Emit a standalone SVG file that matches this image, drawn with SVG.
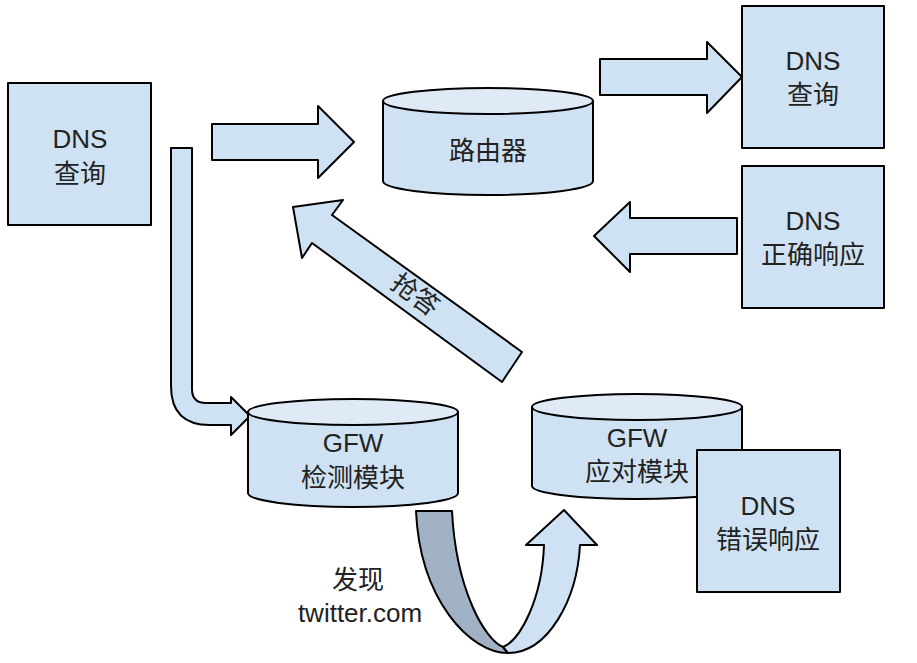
<svg xmlns="http://www.w3.org/2000/svg" width="917" height="663" viewBox="0 0 917 663">
<style>
.s{fill:#cfe2f3;stroke:#000;stroke-width:2;stroke-linejoin:round}
.top{fill:#dfeaf6;stroke:#000;stroke-width:2}
.dark{fill:#a0b2c4;stroke:#000;stroke-width:2;stroke-linejoin:round}
text{font-family:"Liberation Sans","Noto Sans CJK SC",sans-serif;font-size:26px;fill:#222;text-anchor:middle}
</style>
<rect width="917" height="663" fill="#fff"/>
<g id="connectors">
<path class="s" d="M212,124 L318,124 L318,106 L354,142 L318,178 L318,160 L212,160 Z"/>
<path class="s" d="M171,148 L192,148 L192,389 Q192,403 206,403 L231,403 L231,397 L250,416 L231,435 L231,425 L210,425 Q171,425 171,386 Z"/>
<path class="s" d="M600,59 L707,59 L707,42 L742,77 L707,113 L707,95 L600,95 Z"/>
<path class="s" d="M737,218 L630,218 L630,202 L594,236 L630,272 L630,254 L737,254 Z"/>
<path class="s" d="M522,352 L332,215 L343,200 L293,207 L302,258 L312,243 L502,382 Z"/>
<text transform="translate(410,302) rotate(36)">抢答</text>
<path class="dark" d="M416,511 L452,511 C456,590 485,640 503,647 L508,653 C470,653 420,600 416,511 Z"/>
<path class="s" d="M503,647 C520,640 542,600 544,545 L526,545 L564,510 L597,545 L580,545 C577,600 548,653 508,653 Z"/>
</g>
<g id="dns-query-left">
<rect class="s" x="8" y="83" width="143" height="142"/>
<text x="80" y="148">DNS</text>
<text x="80" y="183">查询</text>
</g>
<g id="router">
<path class="s" d="M383,101 L383,181 A105,14 0 0 0 593,181 L593,101 Z"/>
<ellipse class="top" cx="488" cy="101" rx="105" ry="13"/>
<text x="488" y="160">路由器</text>
</g>
<g id="dns-query-right">
<rect class="s" x="742" y="6" width="142" height="142"/>
<text x="813" y="70">DNS</text>
<text x="813" y="104">查询</text>
</g>
<g id="dns-correct">
<rect class="s" x="742" y="166" width="142" height="142"/>
<text x="813" y="230">DNS</text>
<text x="813" y="264">正确响应</text>
</g>
<g id="gfw-detect">
<path class="s" d="M248,412 L248,493 A105,14 0 0 0 458,493 L458,412 Z"/>
<ellipse class="top" cx="353" cy="412" rx="105" ry="13"/>
<text x="353" y="452">GFW</text>
<text x="353" y="487">检测模块</text>
</g>
<g id="gfw-respond">
<path class="s" d="M532,407 L532,486 A105,13 0 0 0 742,486 L742,407 Z"/>
<ellipse class="top" cx="637" cy="407" rx="105" ry="13"/>
<text x="637" y="447">GFW</text>
<text x="637" y="481">应对模块</text>
</g>
<g id="dns-error">
<rect class="s" x="697" y="450" width="143" height="142"/>
<text x="768" y="515">DNS</text>
<text x="768" y="549">错误响应</text>
</g>
<g id="label-found">
<text x="358" y="589">发现</text>
<text x="360" y="622">twitter.com</text>
</g>
</svg>
